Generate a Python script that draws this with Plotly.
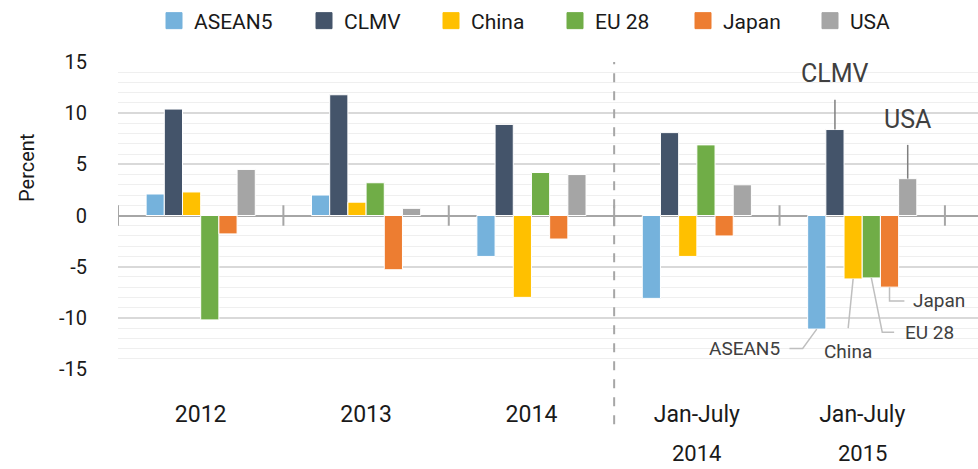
import plotly.graph_objects as go

periods = ["2012", "2013", "2014", "Jan-July", "Jan-July"]
period_years = ["", "", "", "2014", "2015"]
series_names = ["ASEAN5", "CLMV", "China", "EU 28", "Japan", "USA"]
asean5 = [2.1, 2.0, -4.0, -8.1, -11.1]
clmv = [10.4, 11.8, 8.9, 8.1, 8.4]
china = [2.3, 1.3, -8.0, -4.0, -6.2]
eu28 = [-10.2, 3.2, 4.2, 6.9, -6.1]
japan = [-1.8, -5.3, -2.3, -2.0, -7.0]
usa = [4.5, 0.7, 4.0, 3.0, 3.6]
values = [asean5, clmv, china, eu28, japan, usa]
y_tick_vals = [-15, -10, -5, 0, 5, 10, 15]
y_tick_text = ["-15", "-10", "-5", "0", "5", "10", "15"]
colors = ["#75B2DC", "#44546A", "#FFC000", "#70AD47", "#ED7D31", "#A5A5A5"]

FONT = "Roboto"
W, H = 978, 469
ML, MR, MT, MB = 118, 0, 62, 100
PW = W - ML - MR
BARGAP = 0.34
n = len(series_names)
bw = (1 - BARGAP) / n
xs = list(range(len(periods)))

def bar_center(cat, k):
    return cat - (1 - BARGAP) / 2 + bw * (k + 0.5)

fig = go.Figure()
for k, (name, vals, col) in enumerate(zip(series_names, values, colors)):
    fig.add_trace(go.Bar(
        x=xs, y=vals, name=name, showlegend=False,
        marker=dict(color=col, line=dict(color="white", width=1)),
    ))

# legend entries (one small legend per series so spacing matches the reference)
legend_left_px = [166, 316, 443, 567, 695, 822]
legend_layouts = {}
for k, (name, col) in enumerate(zip(series_names, colors)):
    lname = "legend" if k == 0 else f"legend{k + 1}"
    fig.add_trace(go.Scatter(
        x=[None], y=[None], mode="markers", name=name, legend=lname,
        marker=dict(symbol="square", size=16, color=col, line=dict(color=col, width=1)),
    ))
    legend_layouts[lname] = dict(
        orientation="h", xref="paper", yref="container",
        x=(legend_left_px[k] - 12 - ML) / PW, y=1 - 21 / H,
        xanchor="left", yanchor="middle", bgcolor="rgba(0,0,0,0)",
        font=dict(family=FONT, size=21, color="#1a1a1a"), itemwidth=30,
    )

shapes = []
# category boundary ticks crossing the zero line
for i in range(len(periods) + 1):
    shapes.append(dict(type="line", xref="x", yref="y", x0=i - 0.5, x1=i - 0.5,
                       y0=-1, y1=1, line=dict(color="#A6A6A6", width=2)))
# dashed separator between annual and Jan-July periods
shapes.append(dict(type="line", xref="x", yref="paper", x0=2.5, x1=2.5,
                   y0=-0.18, y1=1.0, line=dict(color="#A6A6A6", width=2, dash="dash")))

annotations = []
for i, yr in enumerate(period_years):
    if yr:
        annotations.append(dict(x=i, y=-15, xref="x", yref="y", text=yr, showarrow=False,
                                yshift=-84, font=dict(family=FONT, size=22, color="#1a1a1a")))
annotations.append(dict(x=(27 - ML) / PW, y=0.655, xref="paper", yref="paper", text="Percent",
                        textangle=-90, showarrow=False, xanchor="center", yanchor="middle",
                        font=dict(family=FONT, size=20, color="#1a1a1a")))

last = len(periods) - 1
dark = "#7F7F7F"
light = "#BFBFBF"
txt = "#404040"
cx = bar_center(last, 1)
shapes.append(dict(type="line", xref="x", yref="y", x0=cx, x1=cx, y0=clmv[last], y1=11.3,
                   line=dict(color=dark, width=1.5)))
annotations.append(dict(x=cx, y=13.9, xref="x", yref="y", text="CLMV", showarrow=False,
                        font=dict(family=FONT, size=25, color=txt)))
ux = bar_center(last, 5)
shapes.append(dict(type="line", xref="x", yref="y", x0=ux, x1=ux, y0=usa[last], y1=6.9,
                   line=dict(color=dark, width=1.5)))
annotations.append(dict(x=ux, y=9.4, xref="x", yref="y", text="USA", showarrow=False,
                        font=dict(family=FONT, size=25, color=txt)))
jx = bar_center(last, 4)
shapes.append(dict(type="path", xref="x", yref="y",
                   path=f"M {jx} {japan[last]} L {jx} -8.35 L {jx + 0.09} -8.35",
                   line=dict(color=light, width=1.5)))
annotations.append(dict(x=jx + 0.13, y=-8.35, xref="x", yref="y", text="Japan", showarrow=False,
                        xanchor="left", font=dict(family=FONT, size=19, color=txt)))
ex = bar_center(last, 3)
shapes.append(dict(type="path", xref="x", yref="y",
                   path=f"M {ex} {eu28[last]} L {ex + 0.066} -11.4 L {ex + 0.138} -11.4",
                   line=dict(color=light, width=1.5)))
annotations.append(dict(x=ex + 0.19, y=-11.4, xref="x", yref="y", text="EU 28", showarrow=False,
                        xanchor="left", font=dict(family=FONT, size=19, color=txt)))
chx = bar_center(last, 2)
shapes.append(dict(type="line", xref="x", yref="y", x0=chx, x1=chx - 0.03, y0=china[last], y1=-11.0,
                   line=dict(color=light, width=1.5)))
annotations.append(dict(x=chx - 0.03, y=-13.3, xref="x", yref="y", text="China", showarrow=False,
                        font=dict(family=FONT, size=19, color=txt)))
ax_ = bar_center(last, 0)
shapes.append(dict(type="path", xref="x", yref="y",
                   path=f"M {ax_} {asean5[last]} L {ax_ - 0.085} -13.0 L {ax_ - 0.165} -13.0",
                   line=dict(color=light, width=1.5)))
annotations.append(dict(x=ax_ - 0.21, y=-13.0, xref="x", yref="y", text="ASEAN5", showarrow=False,
                        xanchor="right", font=dict(family=FONT, size=19, color=txt)))

fig.update_layout(
    width=W, height=H,
    margin=dict(l=ML, r=MR, t=MT, b=MB, autoexpand=False),
    paper_bgcolor="white", plot_bgcolor="white",
    barmode="group", bargap=BARGAP, bargroupgap=0,
    font=dict(family=FONT, color="#1a1a1a"),
    shapes=shapes, annotations=annotations,
    xaxis=dict(range=[-0.5, 4.7], tickmode="array", tickvals=xs, ticktext=periods,
               showgrid=False, zeroline=False, showline=False,
               ticks="outside", ticklen=24, tickcolor="rgba(0,0,0,0)",
               tickfont=dict(family=FONT, size=23, color="#1a1a1a")),
    yaxis=dict(range=[-15, 15], tickmode="array", tickvals=y_tick_vals, ticktext=y_tick_text,
               showgrid=True, gridcolor="#D9D9D9", gridwidth=1.5,
               minor=dict(dtick=1, tick0=0, showgrid=True, gridcolor="#EFEFEF", gridwidth=1.2),
               zeroline=True, zerolinecolor="#A6A6A6", zerolinewidth=2,
               showline=False, ticks="outside", ticklen=26, tickcolor="rgba(0,0,0,0)",
               tickfont=dict(family=FONT, size=20, color="#1a1a1a")),
    **legend_layouts,
)

fig.write_html("out.html", config={"displayModeBar": False},
               post_script="document.body.style.margin='0';")
